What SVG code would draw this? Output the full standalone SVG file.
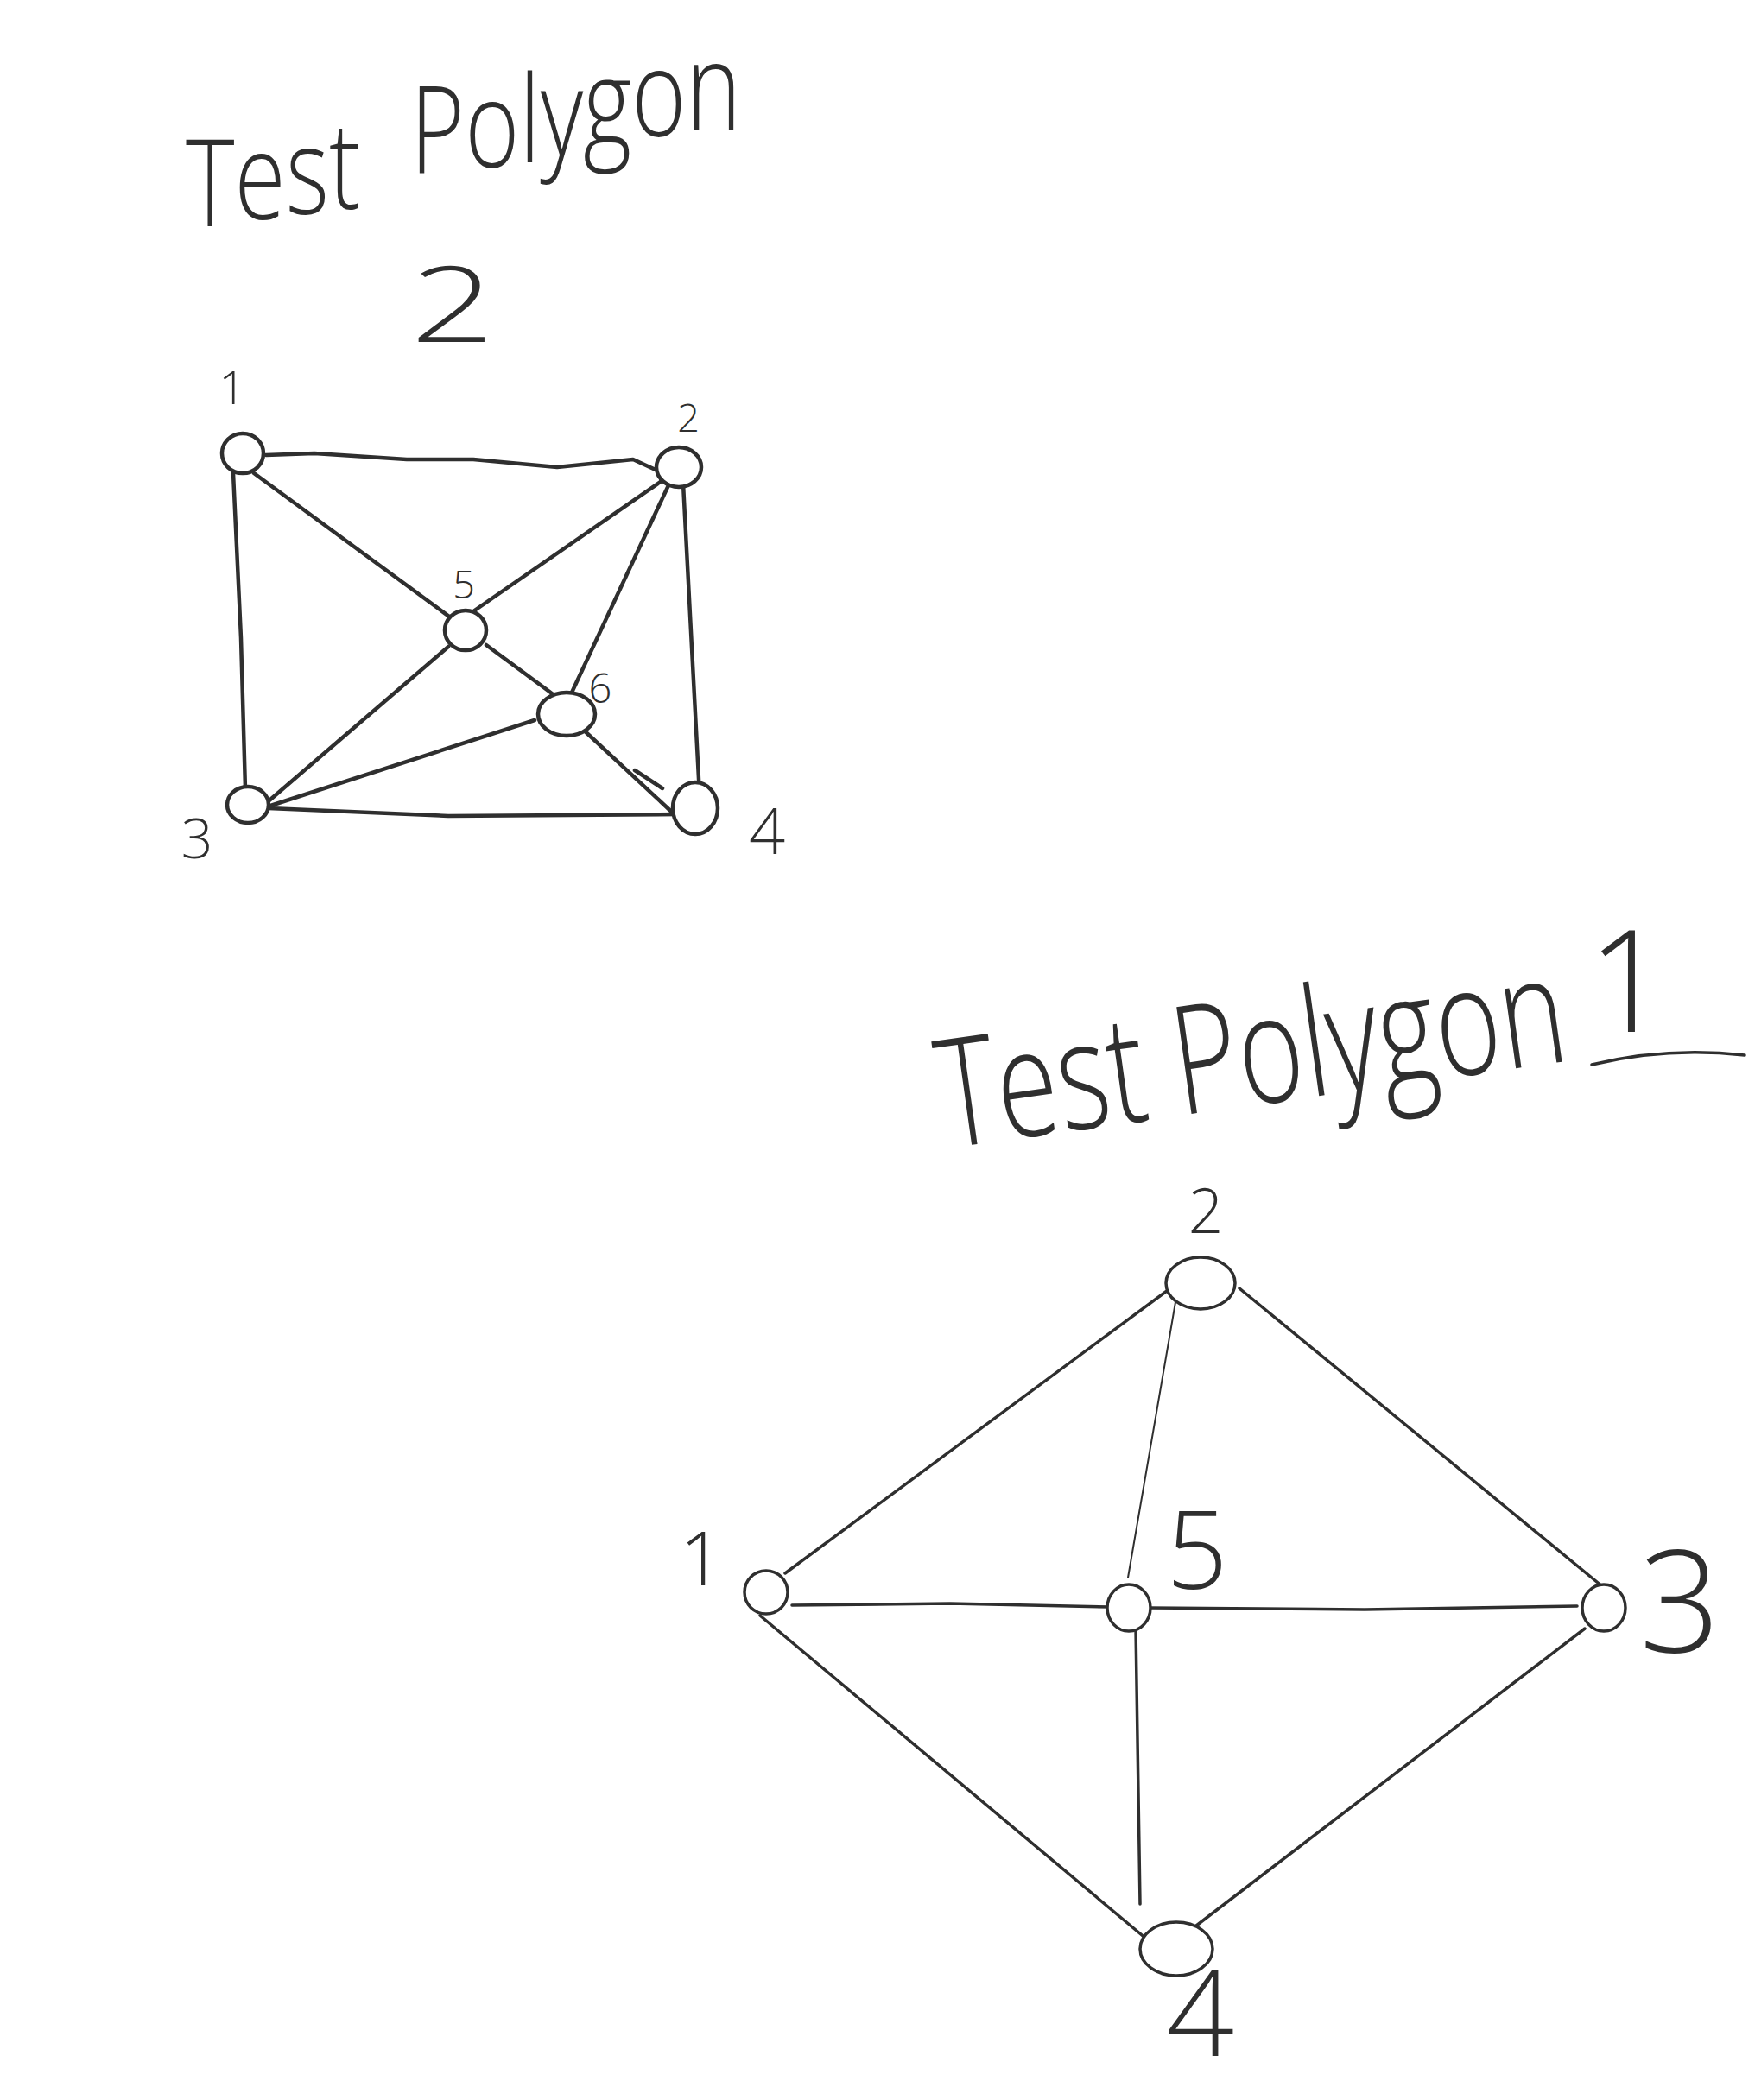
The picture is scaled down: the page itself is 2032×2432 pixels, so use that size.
<svg xmlns="http://www.w3.org/2000/svg" width="2032" height="2432" viewBox="0 0 2032 2432">
<style>
.edge{fill:none;stroke:#2f2f2f;stroke-linecap:round;stroke-linejoin:round}
.e2{stroke-width:4.5}
.e1{stroke-width:3.5}
.thin{stroke-width:2}
.nd2{fill:#fff;stroke:#2f2f2f;stroke-width:4.5}
.nd1{fill:#fff;stroke:#2f2f2f;stroke-width:3.5}
.lbl{font-family:"Open Sans","Liberation Sans",sans-serif;font-weight:300;fill:#2f2f2f;text-anchor:middle}
.title{font-family:"Open Sans","Liberation Sans",sans-serif;font-weight:300;fill:#2f2f2f}
</style>
<rect width="2032" height="2432" fill="#fff"/>

<!-- Titles -->
<g id="title-2">
  <text class="title" font-size="140" transform="translate(215,0) scale(0.77,1)" x="0" y="262"><tspan>T</tspan><tspan dy="-8">e</tspan><tspan dy="-6">s</tspan><tspan dy="-6">t</tspan> <tspan dx="39" dy="-42">P</tspan><tspan dy="-6">o</tspan><tspan dy="-6">l</tspan><tspan dy="-8">y</tspan><tspan dy="-12">g</tspan><tspan dy="-10">o</tspan><tspan dy="-8">n</tspan></text>
  <text class="lbl" font-size="122" transform="translate(524,396) scale(1.4,1)">2</text>
</g>
<g id="title-1">
  <text class="title" font-size="175" transform="translate(1095,1330) rotate(-8) scale(0.735,1)">Test Polygon</text>
  <text class="lbl" font-size="165" x="1885" y="1195">1</text>
  <path class="edge e1" d="M1843,1233 Q1930,1212 2020,1222"/>
</g>

<!-- Connectors -->
<g id="connectors">
  <g id="edges-polygon-2">
    <path class="edge e2" d="M308,527 L364,525 L471,532 L548,532 L645,541 L733,532 L759,544"/>
    <path class="edge e2" d="M270,548 L279,739 L284,914"/>
    <path class="edge e2" d="M294,548 L531,722"/>
    <path class="edge e2" d="M769,555 L548,708"/>
    <path class="edge e2" d="M774,562 L662,802"/>
    <path class="edge e2" d="M791,560 L810,921"/>
    <path class="edge e2" d="M519,749 L299,938"/>
    <path class="edge e2" d="M563,747 L643,806"/>
    <path class="edge e2" d="M619,834 L304,936"/>
    <path class="edge e2" d="M672,842 L786,948"/>
    <path class="edge e2" d="M735,892 L767,913"/>
    <path class="edge e2" d="M311,936 L519,945 L786,943"/>
  </g>
  <g id="edges-polygon-1">
    <path class="edge e1" d="M909,1822 L1355,1492"/>
    <path class="edge thin" d="M1361,1508 L1306,1827"/>
    <path class="edge e1" d="M1435,1492 L1855,1837"/>
    <path class="edge e1" d="M917,1859 L1100,1857 L1285,1861"/>
    <path class="edge e1" d="M1330,1862 L1580,1864 L1826,1860"/>
    <path class="edge e1" d="M880,1871 L1340,2256"/>
    <path class="edge e1" d="M1315,1886 L1320,2205"/>
    <path class="edge e1" d="M1835,1886 L1376,2237"/>
  </g>
</g>

<!-- Polygon 2 nodes -->
<g id="p2-node-1"><ellipse class="nd2" cx="281" cy="525" rx="24" ry="23"/><text class="lbl" font-size="54" x="269" y="468">1</text></g>
<g id="p2-node-2"><ellipse class="nd2" cx="786" cy="541" rx="26" ry="23"/><text class="lbl" font-size="45" x="797" y="500">2</text></g>
<g id="p2-node-5"><ellipse class="nd2" cx="539" cy="730" rx="24" ry="23"/><text class="lbl" font-size="45" x="537" y="693">5</text></g>
<g id="p2-node-6"><ellipse class="nd2" cx="656" cy="827" rx="33" ry="25"/><text class="lbl" font-size="47" x="695" y="814">6</text></g>
<g id="p2-node-3"><ellipse class="nd2" cx="287" cy="932" rx="24" ry="21"/><text class="lbl" font-size="64" x="228" y="994">3</text></g>
<g id="p2-node-4"><ellipse class="nd2" cx="805" cy="936" rx="26" ry="30"/><text class="lbl" font-size="74" x="888" y="989">4</text></g>

<!-- Polygon 1 nodes -->
<g id="p1-node-2"><ellipse class="nd1" cx="1390" cy="1486" rx="40" ry="30"/><text class="lbl" font-size="71" x="1396" y="1428">2</text></g>
<g id="p1-node-1"><ellipse class="nd1" cx="887" cy="1844" rx="25" ry="25"/><text class="lbl" font-size="87" x="812" y="1836">1</text></g>
<g id="p1-node-5"><ellipse class="nd1" cx="1307" cy="1862" rx="25" ry="27"/><text class="lbl" font-size="125" x="1386" y="1840">5</text></g>
<g id="p1-node-3"><ellipse class="nd1" cx="1857" cy="1862" rx="25" ry="27"/><text class="lbl" font-size="165" x="1945" y="1913">3</text></g>
<g id="p1-node-4"><ellipse class="nd1" cx="1362" cy="2257" rx="42" ry="31"/><text class="lbl" font-size="138" x="1390" y="2381">4</text></g>
</svg>
